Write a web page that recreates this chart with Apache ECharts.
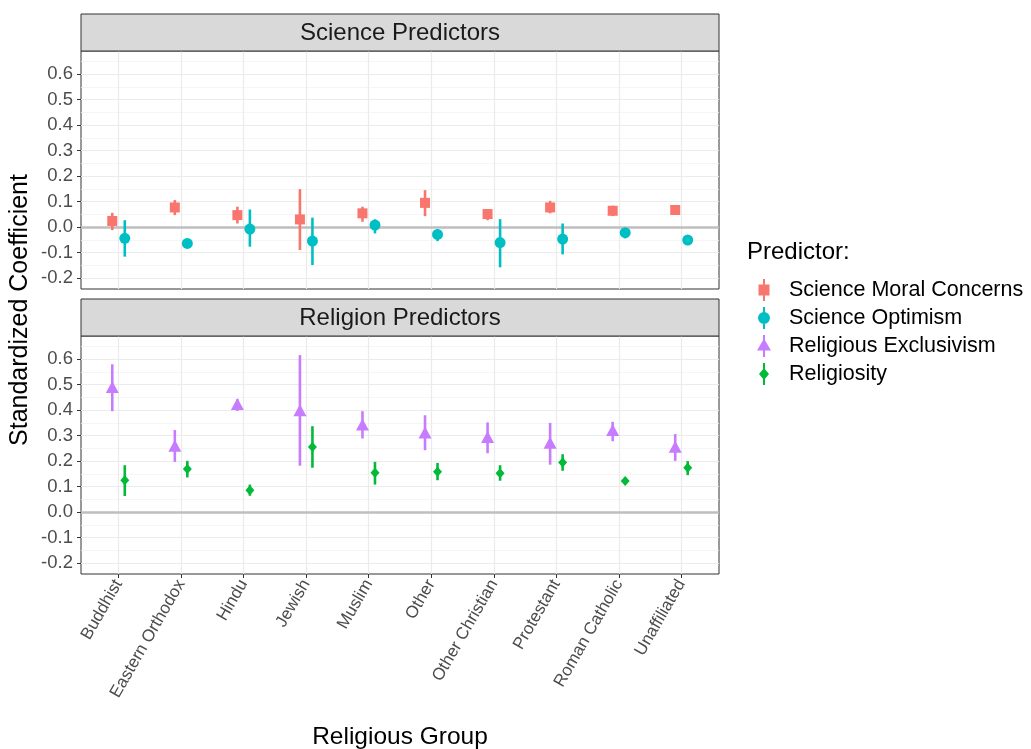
<!DOCTYPE html>
<html>
<head>
<meta charset="utf-8">
<script src="https://cdn.jsdelivr.net/npm/echarts@6/dist/echarts.min.js"></script>
<style>
html,body{margin:0;padding:0;background:#fff;}
#main{width:1031px;height:749px;}
</style>
</head>
<body>
<div id="main"></div>
<script>
// ---- data ----
var categories = ['Buddhist','Eastern Orthodox','Hindu','Jewish','Muslim','Other','Other Christian','Protestant','Roman Catholic','Unaffiliated'];
var yTicks = [-0.2,-0.1,0,0.1,0.2,0.3,0.4,0.5,0.6];
var yMinorTicks = [-0.15,-0.05,0.05,0.15,0.25,0.35,0.45,0.55,0.65];
var predictors = ['Science Moral Concerns','Science Optimism','Religious Exclusivism','Religiosity'];
var panels = ['Science Predictors','Religion Predictors'];

var moralEst = [0.024, 0.077, 0.047, 0.030, 0.054, 0.095, 0.051, 0.077, 0.064, 0.067];
var moralLo  = [-0.012, 0.047, 0.014, -0.090, 0.021, 0.043, 0.027, 0.054, 0.043, 0.058];
var moralHi  = [0.056, 0.106, 0.080, 0.149, 0.080, 0.145, 0.071, 0.103, 0.084, 0.075];

var optEst = [-0.044, -0.064, -0.008, -0.055, 0.008, -0.029, -0.061, -0.047, -0.022, -0.051];
var optLo  = [-0.116, -0.072, -0.077, -0.149, -0.025, -0.055, -0.158, -0.107, -0.044, -0.058];
var optHi  = [0.027, -0.056, 0.069, 0.037, 0.030, -0.009, 0.031, 0.014, -0.008, -0.045];

var exclEst = [0.491, 0.260, 0.424, 0.400, 0.344, 0.312, 0.295, 0.272, 0.322, 0.256];
var exclLo  = [0.396, 0.197, 0.397, 0.182, 0.289, 0.243, 0.231, 0.186, 0.278, 0.201];
var exclHi  = [0.580, 0.322, 0.443, 0.616, 0.396, 0.380, 0.352, 0.350, 0.354, 0.306];

var relEst = [0.125, 0.169, 0.086, 0.255, 0.154, 0.158, 0.152, 0.195, 0.122, 0.174];
var relLo  = [0.063, 0.136, 0.064, 0.174, 0.108, 0.125, 0.123, 0.162, 0.114, 0.145];
var relHi  = [0.184, 0.201, 0.108, 0.337, 0.197, 0.193, 0.184, 0.227, 0.130, 0.200];

// ---- styling / layout ----
var colors = ['#F8766D','#00BFC4','#C77CFF','#00BA38'];
var FONT = 'Liberation Sans, Arial, sans-serif';
var DODGE = 0.1;
var catIdx = categories.map(function(_, i){ return i; });

var icons = [
  'path://M0,0M18,22M8,0h2v22h-2z M3.5,5.5h11v11h-11z',
  'path://M0,0M18,22M8,0h2v22h-2z M9,5a6,6 0 1 1 0,12a6,6 0 1 1 0,-12z',
  'path://M0,0M18,22M8,0h2v22h-2z M9,3.5L16,15.5L2,15.5z',
  'path://M0,0M18,22M8,0h2v22h-2z M9,5L14,11L9,17L4,11z'
];
var symbols = ['rect','circle','triangle','diamond'];
var symbolSizes = [[10,10],[11,11],[13,12],[9,10]];

function errData(lo, hi, off){
  return catIdx.map(function(i){ return [i + off, lo[i], hi[i]]; });
}
function ptData(est, off){
  return catIdx.map(function(i){ return [i + off, est[i]]; });
}

var groups = [
  {est: moralEst, lo: moralLo, hi: moralHi, off: -DODGE, panel: 0},
  {est: optEst, lo: optLo, hi: optHi, off: DODGE, panel: 0},
  {est: exclEst, lo: exclLo, hi: exclHi, off: -DODGE, panel: 1},
  {est: relEst, lo: relLo, hi: relHi, off: DODGE, panel: 1}
];

var series = [];
groups.forEach(function(g, k){
  var col = colors[k];
  var yIdx = g.panel * 2;
  var s = {
    name: predictors[k],
    type: 'custom',
    xAxisIndex: g.panel,
    yAxisIndex: yIdx,
    itemStyle: {color: col},
    encode: {x: 0, y: [1, 2]},
    data: errData(g.lo, g.hi, g.off),
    z: 3,
    renderItem: function(params, api){
      var p1 = api.coord([api.value(0), api.value(1)]);
      var p2 = api.coord([api.value(0), api.value(2)]);
      return {type: 'line', shape: {x1: p1[0], y1: p1[1], x2: p2[0], y2: p2[1]},
              style: {stroke: col, lineWidth: 2.6}};
    }
  };
  if (k === 0 || k === 2) {
    s.markLine = {
      silent: true, symbol: 'none', label: {show: false},
      lineStyle: {color: '#BEBEBE', width: 2.6, type: 'solid'},
      data: [{yAxis: 0}], z: 2
    };
  }
  series.push(s);
  series.push({
    name: predictors[k],
    type: 'scatter',
    xAxisIndex: g.panel,
    yAxisIndex: yIdx,
    symbol: symbols[k],
    symbolSize: symbolSizes[k],
    itemStyle: {color: col, opacity: 1},
    data: ptData(g.est, g.off),
    z: 4
  });
});

var gridTops = [51, 336];
var grids = gridTops.map(function(t){
  return {left: 81, top: t, width: 638, height: 238, show: true,
          borderColor: '#333333', borderWidth: 1, backgroundColor: '#fff', containLabel: false};
});

var xAxes = [0,1].map(function(p){
  return {
    type: 'value', gridIndex: p, min: -0.6, max: 9.6,
    axisLine: {show: false, onZero: false},
    axisTick: {show: p === 1, customValues: catIdx, length: 4, lineStyle: {color: '#333333'}},
    axisLabel: {show: p === 1, customValues: catIdx, rotate: 60, margin: 7,
      fontSize: 17, color: '#4D4D4D', fontFamily: FONT,
      formatter: function(v){ return categories[Math.round(v)]; }},
    splitLine: {show: true, lineStyle: {color: '#EBEBEB', width: 1.2}}
  };
});

var yAxes = [];
[0,1].forEach(function(p){
  yAxes.push({
    type: 'value', gridIndex: p, min: -0.243, max: 0.691, position: 'left',
    axisLine: {show: false, onZero: false},
    axisTick: {show: true, customValues: yTicks, length: 4, lineStyle: {color: '#333333'}},
    axisLabel: {show: true, customValues: yTicks, margin: 8, fontSize: 18.5, color: '#4D4D4D', fontFamily: FONT,
      formatter: function(v){ return v.toFixed(1); }},
    splitLine: {show: true, lineStyle: {color: '#EBEBEB', width: 1.2}}
  });
  yAxes.push({
    type: 'value', gridIndex: p, min: -0.243, max: 0.691, position: 'left',
    axisLine: {show: false, onZero: false},
    axisTick: {show: false, customValues: yMinorTicks},
    axisLabel: {show: false},
    splitLine: {show: true, lineStyle: {color: '#F2F2F2', width: 0.8}}
  });
});

var graphics = [];
panels.forEach(function(name, p){
  var top = gridTops[p] - 37;
  graphics.push({type: 'rect', shape: {x: 81, y: top, width: 638, height: 37},
    style: {fill: '#D9D9D9', stroke: '#333333', lineWidth: 1}, z: 10});
  graphics.push({type: 'text', x: 400, y: top + 19,
    style: {text: name, fill: '#1A1A1A', font: '24px ' + FONT, textAlign: 'center', textVerticalAlign: 'middle'}, z: 11});
});
graphics.push({type: 'text', x: 400, y: 737,
  style: {text: 'Religious Group', fill: '#000', font: '24.5px ' + FONT, textAlign: 'center', textVerticalAlign: 'middle'}});
graphics.push({type: 'text', x: 20, y: 310, rotation: Math.PI / 2,
  style: {text: 'Standardized Coefficient', fill: '#000', font: '25px ' + FONT, textAlign: 'center', textVerticalAlign: 'middle'}});
graphics.push({type: 'text', x: 747, y: 252,
  style: {text: 'Predictor:', fill: '#000', font: '24px ' + FONT, textAlign: 'left', textVerticalAlign: 'middle'}});

var chart = echarts.init(document.getElementById('main'), null, {renderer: 'canvas'});
chart.setOption({
  animation: false,
  backgroundColor: '#fff',
  textStyle: {fontFamily: FONT},
  grid: grids,
  xAxis: xAxes,
  yAxis: yAxes,
  legend: {
    orient: 'vertical', left: 750, top: 274,
    itemWidth: 18, itemHeight: 22, itemGap: 6,
    selectedMode: false,
    textStyle: {fontSize: 21.5, color: '#000', fontFamily: FONT, padding: [0, 0, 0, 11]},
    data: predictors.map(function(n, k){ return {name: n, icon: icons[k], itemStyle: {color: colors[k]}}; })
  },
  graphic: graphics,
  series: series
});
</script>
</body>
</html>
